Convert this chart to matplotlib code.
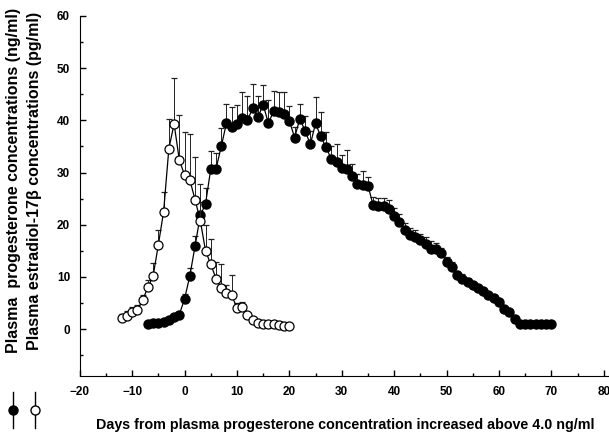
import matplotlib.pyplot as plt
from matplotlib.lines import Line2D
from matplotlib.ticker import MultipleLocator

# estradiol-17b (pg/ml), open circles
e2_days = [-12, -11, -10, -9, -8, -7, -6, -5, -4, -3, -2, -1, 0, 1, 2, 3, 4, 5, 6,
           7, 8, 9, 10, 11, 12, 13, 14, 15, 16, 17, 18, 19, 20]
e2_mean = [2.1, 2.6, 3.2, 3.7, 5.6, 8.0, 10.2, 16.2, 22.5, 34.6, 39.3, 32.4, 29.5, 28.6,
           24.8, 20.8, 15.0, 12.4, 9.7, 7.8, 7.0, 6.5, 4.0, 4.3, 2.7, 1.7, 1.2, 1.0,
           0.9, 0.9, 0.8, 0.7, 0.7]
e2_err = [0.8, 0.8, 1.1, 1.0, 1.0, 1.5, 2.4, 2.7, 3.7, 5.6, 8.8, 8.6, 8.3, 8.7,
          8.1, 7.0, 4.9, 4.9, 3.2, 4.7, 1.5, 3.9, 1.0, 1.0, 0.5, 0.4, 0.3, 0.3,
          0.2, 0.2, 0.2, 0.2, 0.2]

# progesterone (ng/ml), filled circles
p4_days = list(range(-7, 71))
p4_mean = [1.0, 1.1, 1.2, 1.4, 1.8, 2.3, 2.8, 5.8, 10.2, 15.9, 21.8, 24.0, 30.7, 30.7,
           35.0, 39.5, 38.7, 39.2, 40.5, 40.0, 42.3, 40.6, 43.0, 39.4, 41.8, 41.6,
           41.3, 39.9, 36.7, 40.3, 38.0, 35.4, 39.4, 36.9, 34.8, 32.6, 32.1, 30.8,
           30.7, 29.4, 27.8, 27.6, 27.5, 23.7, 23.6, 23.5, 23.0, 21.7, 20.5, 18.9,
           18.1, 17.7, 17.0, 16.4, 15.4, 15.3, 14.5, 12.9, 11.9, 10.3, 9.7, 9.1,
           8.4, 7.8, 7.3, 6.6, 6.0, 5.2, 3.9, 3.2, 2.0, 1.0, 1.0, 1.0, 1.0, 1.0,
           1.0, 1.0]
p4_err = [0.2, 0.2, 0.2, 0.3, 0.3, 0.4, 0.5, 1.0, 1.5, 2.0, 2.5, 3.0, 3.5, 3.0,
          3.6, 3.7, 3.8, 3.7, 5.0, 4.6, 4.7, 4.0, 3.7, 4.5, 3.8, 3.8, 4.1, 2.8,
          2.0, 2.9, 2.8, 2.5, 5.0, 4.6, 3.0, 2.5, 3.3, 2.5, 3.6, 2.2, 2.0, 2.7,
          1.7, 1.6, 1.6, 1.7, 1.8, 1.5, 1.5, 1.4, 1.3, 1.3, 1.2, 1.2, 1.5, 1.2,
          1.0, 1.0, 0.9, 0.8, 0.8, 0.7, 0.7, 0.6, 0.6, 0.5, 0.5, 0.4, 0.4, 0.3,
          0.3, 0.2, 0.2, 0.2, 0.2, 0.2, 0.2, 0.2]

plt.rcParams['font.family'] = ['Liberation Sans', 'DejaVu Sans']
plt.rcParams['font.weight'] = 'bold'

fig = plt.figure(figsize=(6.09, 4.41), dpi=100)
ax = fig.add_axes([0.131, 0.147, 0.869, 0.817])

zeros_e2 = [0] * len(e2_err)
zeros_p4 = [0] * len(p4_err)

ax.errorbar(p4_days, p4_mean, yerr=[zeros_p4, p4_err], fmt='none', ecolor='#222222',
            elinewidth=0.7, capsize=2.5, capthick=0.9, zorder=2)
ax.plot(p4_days, p4_mean, '-o', color='black', lw=0.9, markersize=6.5,
        markerfacecolor='black', markeredgecolor='black', zorder=3)

ax.errorbar(e2_days, e2_mean, yerr=[zeros_e2, e2_err], fmt='none', ecolor='#222222',
            elinewidth=0.7, capsize=2.5, capthick=0.9, zorder=4)
ax.plot(e2_days, e2_mean, '-o', color='black', lw=0.9, markersize=6.5,
        markerfacecolor='white', markeredgecolor='black', markeredgewidth=0.9, zorder=5)

ax.set_xlim(-20, 81)
ax.set_ylim(-9, 60)
ax.xaxis.set_major_locator(MultipleLocator(10))
ax.xaxis.set_minor_locator(MultipleLocator(5))
ax.yaxis.set_major_locator(MultipleLocator(10))
ax.yaxis.set_minor_locator(MultipleLocator(5))
ax.tick_params(which='major', direction='in', length=4, width=1, labelsize=8.5, pad=7)
ax.tick_params(which='minor', direction='in', length=2, width=1)
ax.spines['top'].set_visible(False)
ax.spines['right'].set_visible(False)
for lab in ax.get_xticklabels() + ax.get_yticklabels():
    lab.set_fontweight('bold')

fig.text(0.158, 0.036, 'Days from plasma progesterone concentration increased above 4.0 ng/ml',
         fontsize=10.3, fontweight='bold', ha='left', va='center')

fig.text(0.022, 0.59, 'Plasma  progesterone concentrations (ng/ml)', rotation=90,
         fontsize=11.5, fontweight='bold', ha='center', va='center')
fig.text(0.057, 0.59, 'Plasma estradiol-17\u03b2 concentrations (pg/ml)', rotation=90,
         fontsize=11.5, fontweight='bold', ha='center', va='center')

# legend glyphs below the rotated labels
for xf, face in [(0.021, 'black'), (0.057, 'white')]:
    fig.add_artist(Line2D([xf, xf], [0.03, 0.11], color='black', lw=1,
                          transform=fig.transFigure))
    fig.add_artist(Line2D([xf], [0.07], marker='o', markersize=6.5, color='black',
                          markerfacecolor=face, transform=fig.transFigure))

fig.savefig('out.png', dpi=100)
